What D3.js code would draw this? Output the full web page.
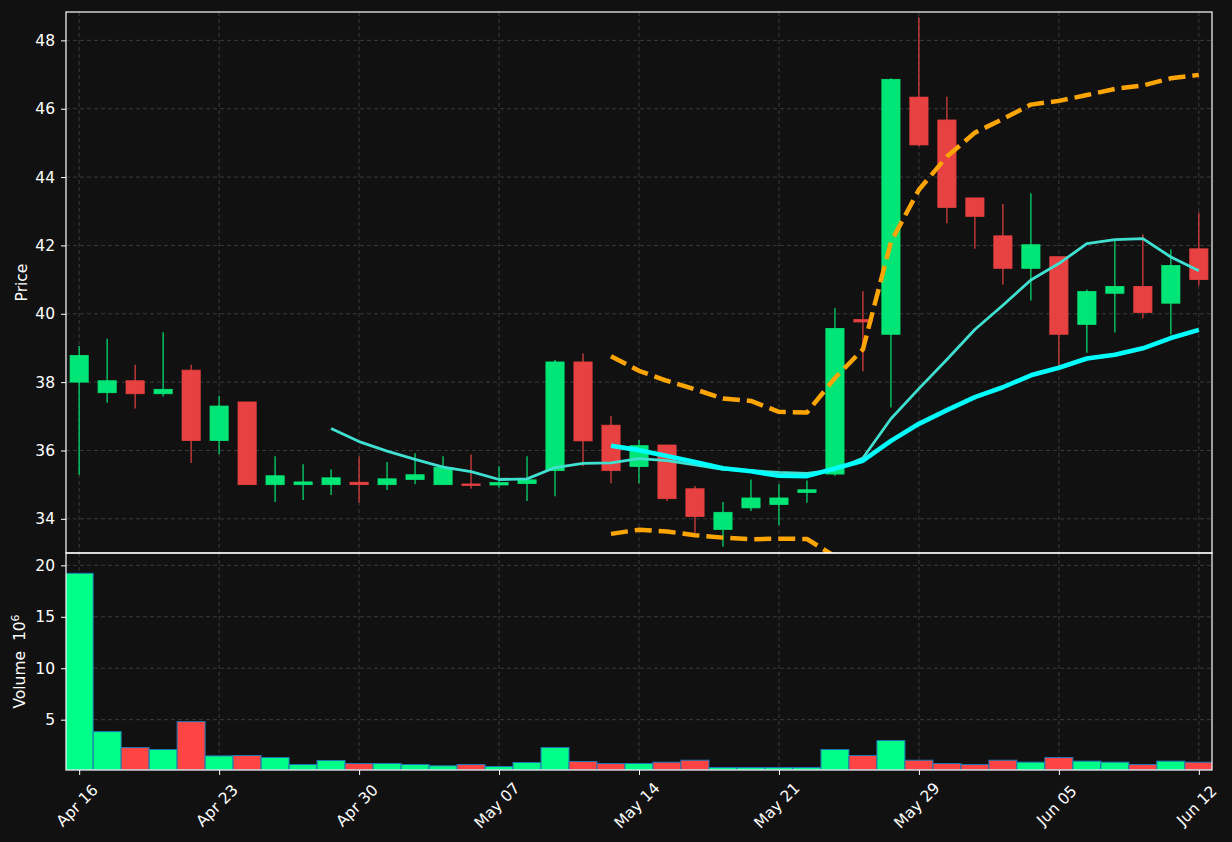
<!DOCTYPE html>
<html>
<head>
<meta charset="utf-8">
<script src="https://cdn.jsdelivr.net/npm/d3@7"></script>
<style>
  html, body { margin: 0; padding: 0; background: #111111; }
  svg { display: block; font-family: "DejaVu Sans", sans-serif; }
</style>
</head>
<body>
<div id="chart"></div>
<script>
// Trading days (2018)
const dates = [
    "2018-04-16", "2018-04-17", "2018-04-18", "2018-04-19", "2018-04-20",
    "2018-04-23", "2018-04-24", "2018-04-25", "2018-04-26", "2018-04-27",
    "2018-04-30", "2018-05-01", "2018-05-02", "2018-05-03", "2018-05-04",
    "2018-05-07", "2018-05-08", "2018-05-09", "2018-05-10", "2018-05-11",
    "2018-05-14", "2018-05-15", "2018-05-16", "2018-05-17", "2018-05-18",
    "2018-05-21", "2018-05-22", "2018-05-23", "2018-05-24", "2018-05-25",
    "2018-05-29", "2018-05-30", "2018-05-31", "2018-06-01",
    "2018-06-04", "2018-06-05", "2018-06-06", "2018-06-07", "2018-06-08",
    "2018-06-11", "2018-06-12"
];

// OHLC
const opens  = [38.00, 37.69, 38.04, 37.66, 38.35, 36.29, 37.42, 35.00, 35.00, 35.00,
                35.07, 35.00, 35.15, 35.00, 35.02, 34.99, 35.03, 35.41, 38.59, 36.74,
                35.53, 36.16, 34.88, 33.69, 34.32, 34.42, 34.77, 35.31, 39.83, 39.40,
                46.34, 45.67, 43.39, 42.28, 41.33, 41.67, 39.69, 40.60, 40.80, 40.31, 41.90];
const highs  = [39.06, 39.27, 38.51, 39.46, 38.51, 37.60, 37.42, 35.83, 35.60, 35.45,
                35.82, 35.66, 35.92, 35.83, 35.88, 35.54, 35.83, 38.65, 38.84, 37.01,
                36.31, 36.16, 34.96, 34.49, 35.15, 35.01, 35.12, 40.17, 40.66, 46.89,
                48.68, 46.35, 43.39, 43.21, 43.53, 41.67, 40.71, 42.17, 42.33, 41.88, 42.96];
const lows   = [35.29, 37.40, 37.23, 37.58, 35.63, 35.89, 35.00, 34.49, 34.55, 34.70,
                34.47, 34.84, 35.01, 35.00, 34.88, 34.91, 34.52, 34.66, 35.54, 35.04,
                35.04, 34.52, 33.59, 33.18, 34.23, 33.81, 34.47, 35.26, 38.32, 37.26,
                44.90, 42.65, 41.90, 40.86, 40.39, 38.47, 38.86, 39.45, 39.87, 39.39, 40.83];
const closes = [38.78, 38.04, 37.66, 37.79, 36.29, 37.30, 35.00, 35.26, 35.08, 35.20,
                35.00, 35.17, 35.29, 35.50, 34.98, 35.06, 35.14, 38.59, 36.28, 35.41,
                36.14, 34.59, 34.07, 34.19, 34.61, 34.61, 34.85, 39.57, 39.76, 46.86,
                44.94, 43.11, 42.85, 41.33, 42.02, 39.40, 40.65, 40.80, 40.04, 41.41, 41.00];

// Volume (millions)
const volumes = [19.23, 3.84, 2.29, 2.10, 4.81, 1.48, 1.52, 1.32, 0.64, 1.03,
                 0.74, 0.74, 0.64, 0.52, 0.64, 0.45, 0.84, 2.29, 0.94, 0.74,
                 0.74, 0.87, 1.06, 0.35, 0.35, 0.35, 0.35, 2.10, 1.52, 2.97,
                 1.06, 0.74, 0.64, 1.06, 0.87, 1.32, 0.97, 0.87, 0.64, 0.97, 0.87];

// Overlays, each starting at the given index
const ma10Start = 9;
const ma10 = [36.64, 36.26, 35.98, 35.74, 35.51, 35.38, 35.15, 35.17, 35.50, 35.62,
              35.64, 35.76, 35.70, 35.58, 35.45, 35.41, 35.36, 35.33, 35.43, 35.78,
              36.93, 37.81, 38.66, 39.54, 40.25, 40.99, 41.47, 42.05, 42.17, 42.20,
              41.66, 41.26];
const ma20Start = 19;
const ma20 = [36.14, 36.01, 35.84, 35.66, 35.48, 35.39, 35.26, 35.25, 35.47, 35.70,
              36.28, 36.78, 37.18, 37.56, 37.85, 38.20, 38.42, 38.69, 38.80, 38.99,
              39.29, 39.53];
const bandStart = 19;
const bandUpper = [38.76, 38.33, 38.04, 37.79, 37.52, 37.45, 37.13, 37.11, 38.12, 38.96,
                   42.10, 43.63, 44.60, 45.30, 45.70, 46.12, 46.23, 46.40, 46.58, 46.68,
                   46.89, 46.99];
const bandLower = [33.56, 33.68, 33.63, 33.52, 33.45, 33.40, 33.42, 33.41, 32.90, 32.50];

const priceTicks = [34, 36, 38, 40, 42, 44, 46, 48];
const volumeTicks = [5, 10, 15, 20];

// Layout
const W = 1232, H = 842;
const left = 66, right = 1212;
const priceTop = 12, priceBottom = 553;
const volTop = 553, volBottom = 770;

const upColor = "#00e676", downColor = "#e84142";
const volUp = "#00ff88", volDown = "#ff4444";

const svg = d3.select("#chart").append("svg")
    .attr("width", W).attr("height", H);

svg.append("rect").attr("width", W).attr("height", H).attr("fill", "#111111");

const x = d3.scaleLinear().domain([-0.47, dates.length - 1 + 0.47]).range([left, right]);
const yP = d3.scaleLinear().domain([33.0, 48.83]).range([priceBottom, priceTop]);
const yV = d3.scaleLinear().domain([0.11, 21.2]).range([volBottom, volTop]);

const parse = d3.timeParse("%Y-%m-%d");
const fmt = d3.timeFormat("%b %d");
const xTicks = dates.map((d, i) => i).filter(i => i % 5 === 0);

const defs = svg.append("defs");
defs.append("clipPath").attr("id", "clipP")
    .append("rect").attr("x", left).attr("y", priceTop)
    .attr("width", right - left).attr("height", priceBottom - priceTop);
defs.append("clipPath").attr("id", "clipV")
    .append("rect").attr("x", left).attr("y", volTop)
    .attr("width", right - left).attr("height", volBottom - volTop);

const gridColor = "#3a3a3a";

// Grid
function grid(g, yScale, ticks, top, bottom) {
    g.selectAll(".gx").data(xTicks).enter().append("line")
        .attr("x1", d => x(d)).attr("x2", d => x(d))
        .attr("y1", top).attr("y2", bottom)
        .attr("stroke", gridColor).attr("stroke-width", 1)
        .attr("stroke-dasharray", "4,3");
    g.selectAll(".gy").data(ticks).enter().append("line")
        .attr("x1", left).attr("x2", right)
        .attr("y1", d => yScale(d)).attr("y2", d => yScale(d))
        .attr("stroke", gridColor).attr("stroke-width", 1)
        .attr("stroke-dasharray", "4,3");
}
grid(svg.append("g"), yP, priceTicks, priceTop, priceBottom);
grid(svg.append("g"), yV, volumeTicks, volTop, volBottom);

// Candles
const candles = dates.map((d, i) => ({
    i, o: opens[i], h: highs[i], l: lows[i], c: closes[i], v: volumes[i]
}));
const pg = svg.append("g").attr("clip-path", "url(#clipP)");
const bw = (x(1) - x(0)) * 0.65;

pg.selectAll(".wick").data(candles).enter().append("line")
    .attr("x1", d => x(d.i)).attr("x2", d => x(d.i))
    .attr("y1", d => yP(d.h)).attr("y2", d => yP(d.l))
    .attr("stroke", d => d.c >= d.o ? upColor : downColor)
    .attr("stroke-width", 1.2);

pg.selectAll(".body").data(candles).enter().append("rect")
    .attr("x", d => x(d.i) - bw / 2)
    .attr("width", bw)
    .attr("y", d => yP(Math.max(d.o, d.c)))
    .attr("height", d => Math.max(1.5, Math.abs(yP(d.o) - yP(d.c))))
    .attr("fill", d => d.c >= d.o ? upColor : downColor)
    .attr("stroke", d => d.c >= d.o ? upColor : downColor)
    .attr("stroke-width", 0.8);

// Overlay lines
function overlay(values, start, color, width, dash) {
    const line = d3.line().x((d, k) => x(start + k)).y(d => yP(d));
    const p = pg.append("path").datum(values)
        .attr("d", line)
        .attr("fill", "none")
        .attr("stroke", color)
        .attr("stroke-width", width)
        .attr("stroke-linejoin", "round");
    if (dash) p.attr("stroke-dasharray", dash);
}
overlay(bandUpper, bandStart, "#ffa500", 4.5, "17,7");
overlay(bandLower, bandStart, "#ffa500", 4.5, "17,7");
overlay(ma10, ma10Start, "#40e0d0", 2.8);
overlay(ma20, ma20Start, "#00ffff", 4.6);

// Volume bars
const vg = svg.append("g").attr("clip-path", "url(#clipV)");
const vw = x(1) - x(0);
vg.selectAll(".vol").data(candles).enter().append("rect")
    .attr("x", d => x(d.i) - vw / 2)
    .attr("width", vw)
    .attr("y", d => yV(d.v))
    .attr("height", d => yV.range()[0] - yV(d.v))
    .attr("fill", d => d.c >= d.o ? volUp : volDown)
    .attr("stroke", "#1f77b4")
    .attr("stroke-width", 1);

// Frames
[[priceTop, priceBottom], [volTop, volBottom]].forEach(([t, b]) => {
    svg.append("rect")
        .attr("x", left).attr("y", t)
        .attr("width", right - left).attr("height", b - t)
        .attr("fill", "none").attr("stroke", "#ffffff").attr("stroke-width", 1.2);
});

// Y axes
const yAxisP = svg.append("g").attr("transform", `translate(${left},0)`)
    .call(d3.axisLeft(yP).tickValues(priceTicks).tickSize(5).tickPadding(6).tickFormat(d3.format("d")));
const yAxisV = svg.append("g").attr("transform", `translate(${left},0)`)
    .call(d3.axisLeft(yV).tickValues(volumeTicks).tickSize(5).tickPadding(6).tickFormat(d3.format("d")));
[yAxisP, yAxisV].forEach(a => {
    a.select(".domain").remove();
    a.selectAll("line").attr("stroke", "#ffffff");
    a.selectAll("text").attr("fill", "#ffffff").attr("font-size", "15.5px")
        .attr("font-family", "DejaVu Sans");
});

// X axis
const xAxis = svg.append("g").attr("transform", `translate(0,${volBottom})`)
    .call(d3.axisBottom(x).tickValues(xTicks).tickSize(5).tickFormat(i => fmt(parse(dates[i]))));
xAxis.select(".domain").remove();
xAxis.selectAll("line").attr("stroke", "#ffffff");
xAxis.selectAll("text")
    .attr("fill", "#ffffff")
    .attr("font-size", "15.5px")
    .attr("font-family", "DejaVu Sans")
    .attr("text-anchor", "middle")
    .attr("dy", null)
    .attr("y", null)
    .attr("transform", "translate(-2,36) rotate(-45)")
    .attr("dominant-baseline", "middle");

// Axis labels
svg.append("text")
    .attr("transform", `translate(27,${(priceTop + priceBottom) / 2}) rotate(-90)`)
    .attr("text-anchor", "middle")
    .attr("fill", "#ffffff").attr("font-size", "15.5px")
    .text("Price");

const vLabel = svg.append("text")
    .attr("transform", `translate(25,${(volTop + volBottom) / 2}) rotate(-90)`)
    .attr("text-anchor", "middle")
    .attr("fill", "#ffffff").attr("font-size", "15.5px");
vLabel.append("tspan").text("Volume\u00a0\u00a010");
vLabel.append("tspan").attr("dy", "-6").attr("font-size", "11px").text("6");
</script>
</body>
</html>
